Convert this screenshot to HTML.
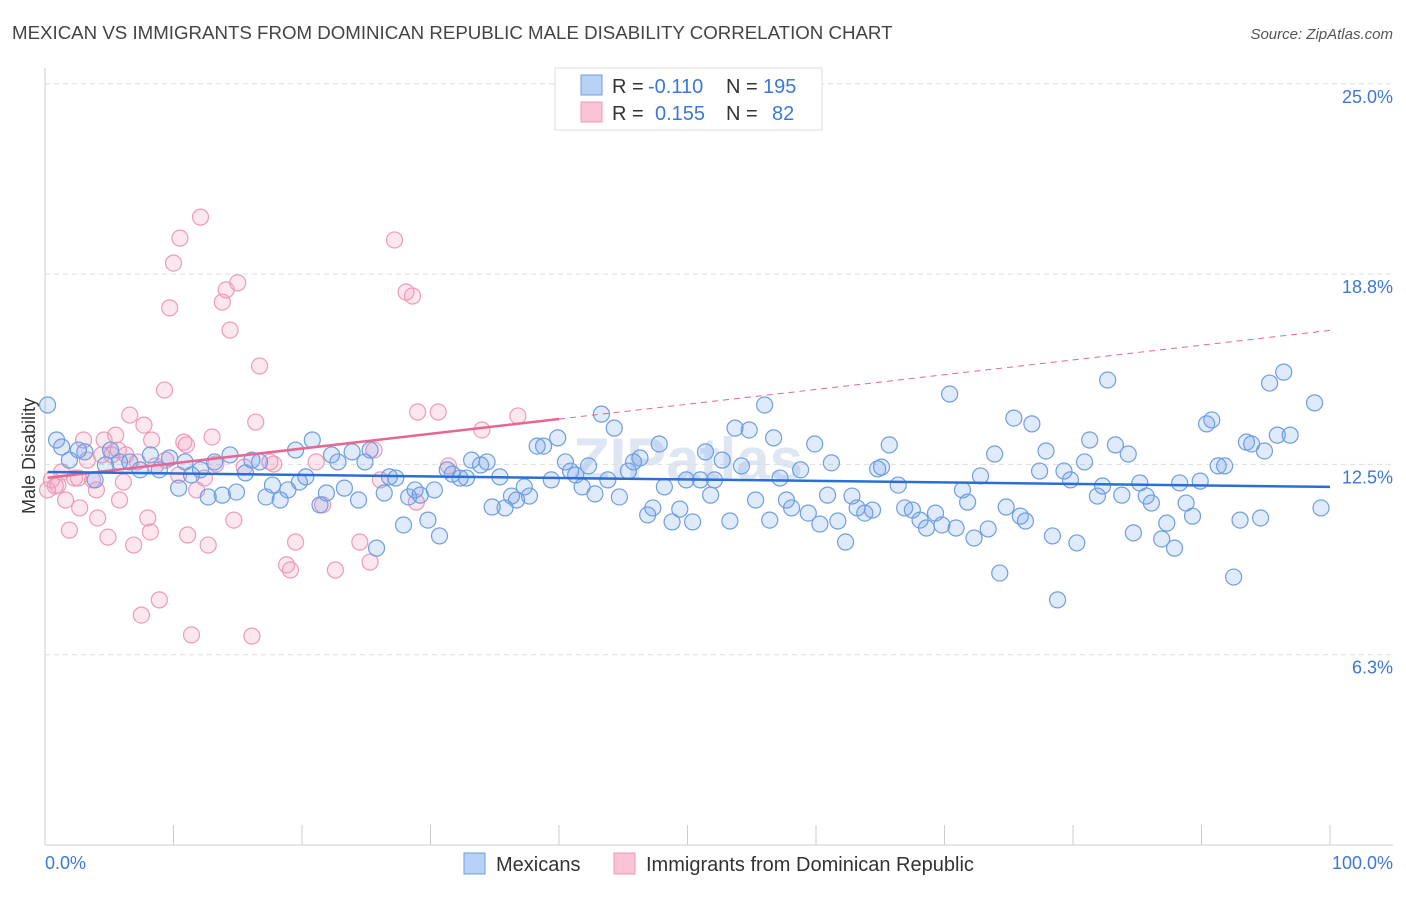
<!DOCTYPE html>
<html><head><meta charset="utf-8"><style>
body{margin:0;background:#fff;font-family:"Liberation Sans",sans-serif;}
svg text{font-family:"Liberation Sans",sans-serif;}
</style></head><body>
<svg id="chart" width="1406" height="892">
<text x="12" y="39" font-size="18.7" fill="#444">MEXICAN VS IMMIGRANTS FROM DOMINICAN REPUBLIC MALE DISABILITY CORRELATION CHART</text>
<text x="1393" y="39" font-size="15" fill="#555" font-style="italic" text-anchor="end">Source: ZipAtlas.com</text>
<text x="688" y="480" font-size="60" fill="#dde6f2" text-anchor="middle" font-weight="bold">ZIPatlas</text>
<g id="grid"></g>
<g id="pts"></g>
<g id="trend"></g>
<text x="35" y="456" font-size="18" fill="#333" text-anchor="middle" transform="rotate(-90 35 456)">Male Disability</text>
<text x="45" y="869" font-size="18" fill="#3b78d8">0.0%</text>
<text x="1393" y="869" font-size="18" fill="#3b78d8" text-anchor="end">100.0%</text>
<g>
<rect x="555" y="68" width="267" height="62" fill="#fff" stroke="#ddd"/>
<rect x="581" y="75" width="21" height="20" fill="#b8d2f5" stroke="#6f9ee0"/>
<rect x="581" y="102" width="21" height="20" fill="#fac4d6" stroke="#ee9ab8"/>
<text x="612" y="93" font-size="20" fill="#333">R = </text><text x="648" y="93" font-size="20" fill="#3b78d8">-0.110</text>
<text x="726" y="93" font-size="20" fill="#333">N = </text><text x="763" y="93" font-size="20" fill="#3b78d8">195</text>
<text x="612" y="120" font-size="20" fill="#333">R = </text><text x="655" y="120" font-size="20" fill="#3b78d8">0.155</text>
<text x="726" y="120" font-size="20" fill="#333">N = </text><text x="772" y="120" font-size="20" fill="#3b78d8">82</text>
</g>
<g>
<rect x="464" y="853" width="21" height="21" fill="#b8d2f5" stroke="#6f9ee0"/>
<text x="496" y="871" font-size="20" fill="#333">Mexicans</text>
<rect x="614" y="853" width="21" height="21" fill="#fac4d6" stroke="#ee9ab8"/>
<text x="646" y="871" font-size="20" fill="#333">Immigrants from Dominican Republic</text>
</g>
</svg>
<script>
const yTicks=[25,18.75,12.5,6.25];
const yTickLabels=["25.0%","18.8%","12.5%","6.3%"];
const xTicks=[0,10,20,30,40,50,60,70,80,90,100];
const blueX=[0.2,0.9,1.3,1.9,2.6,3.1,3.9,4.7,5.1,5.8,6.6,7.4,8.2,8.9,9.7,10.4,10.9,11.4,12.1,12.7,13.2,13.8,14.4,14.9,15.6,16.1,16.7,17.2,17.7,18.3,18.9,19.5,19.8,20.3,20.8,21.4,21.9,22.3,22.8,23.3,23.9,24.4,24.9,25.3,25.8,26.4,26.8,27.3,27.9,28.3,28.8,29.2,29.8,30.3,30.7,31.3,31.7,32.3,32.8,33.2,33.9,34.4,34.8,35.4,35.8,36.3,36.7,37.3,37.7,38.3,38.8,39.4,39.9,40.5,40.9,41.3,41.8,42.3,42.8,43.3,43.8,44.3,44.7,45.4,45.8,46.3,46.9,47.3,47.8,48.2,48.8,49.4,49.9,50.4,51.0,51.4,51.8,52.1,52.7,53.3,53.7,54.2,54.8,55.3,56.0,56.4,56.7,57.2,57.7,58.1,58.8,59.4,59.9,60.3,60.9,61.2,61.7,62.3,62.8,63.2,63.8,64.4,64.8,65.1,65.7,66.4,66.9,67.5,68.1,68.6,69.3,69.8,70.4,70.9,71.4,71.8,72.3,72.8,73.4,73.9,74.3,74.8,75.4,75.9,76.3,76.8,77.4,77.9,78.4,78.8,79.3,79.8,80.3,80.9,81.3,81.9,82.3,82.7,83.3,83.8,84.3,84.7,85.2,85.7,86.1,86.9,87.3,87.9,88.3,88.8,89.3,89.9,90.4,90.8,91.3,91.8,92.5,93.0,93.5,93.9,94.6,94.9,95.3,95.9,96.4,96.9,98.8,99.3];
const blueY=[14.45,13.3,13.07,12.64,12.97,12.91,11.99,12.48,12.97,12.58,12.58,12.32,12.81,12.32,12.71,11.72,12.58,12.15,12.32,11.43,12.58,11.49,12.81,11.59,12.22,12.64,12.58,11.43,11.82,11.33,11.66,12.97,11.92,12.09,13.3,11.17,11.56,12.81,12.58,11.72,12.91,11.33,12.58,12.97,9.75,11.56,12.09,12.05,10.51,11.43,11.66,11.49,10.67,11.66,10.15,12.32,12.18,12.05,12.05,12.64,12.48,12.58,11.1,12.09,11.07,11.46,11.33,11.76,11.46,13.1,13.1,11.99,13.37,12.58,12.28,12.15,11.76,12.45,11.53,14.15,11.99,13.69,11.43,12.28,12.58,12.71,10.84,11.07,13.17,11.76,10.61,11.03,11.99,10.61,11.99,12.91,11.49,11.99,12.64,10.64,13.69,12.45,13.63,11.33,14.45,10.67,13.37,12.05,11.33,11.07,12.32,10.9,13.17,10.54,11.49,12.55,10.64,9.95,11.46,11.07,10.9,11.0,12.35,12.41,13.14,11.82,11.07,11.0,10.67,10.41,10.9,10.51,14.81,10.41,11.66,11.26,10.08,12.12,10.38,12.84,8.93,11.1,14.02,10.8,10.64,13.83,12.28,12.94,10.15,8.05,12.28,11.99,9.92,12.58,13.3,11.46,11.79,15.27,13.14,11.49,12.84,10.25,11.89,11.46,11.23,10.05,10.57,9.75,11.89,11.23,10.8,11.95,13.83,13.96,12.45,12.45,8.8,10.67,13.23,13.17,10.74,12.94,15.17,13.46,15.53,13.46,14.52,11.07];
const pinkX=[0.2,0.5,0.8,1.0,1.3,1.6,1.9,2.3,2.6,2.7,3.0,3.3,3.7,4.0,4.1,4.4,4.6,4.9,5.2,5.5,5.7,5.8,6.1,6.3,6.6,6.9,7.2,7.5,7.7,8.0,8.2,8.3,8.6,8.9,9.3,9.4,9.7,10.0,10.4,10.5,10.8,11.0,11.1,11.4,11.8,12.1,12.4,12.7,13.0,13.3,13.8,14.1,14.4,14.7,15.0,15.5,16.1,16.4,16.7,17.5,17.8,18.8,19.1,19.5,21.1,21.6,22.6,24.5,25.3,25.6,26.1,27.2,28.1,28.6,28.9,29.0,30.6,31.4,34.0,36.8];
const pinkY=[11.66,11.99,11.79,11.82,12.25,11.33,10.34,12.05,12.05,11.07,13.3,12.64,11.99,11.66,10.74,12.81,13.3,10.11,12.81,13.46,12.97,11.33,11.92,12.81,14.12,9.85,12.58,7.55,13.79,10.74,10.28,13.3,12.45,8.05,14.94,12.64,17.64,19.11,12.15,19.93,13.23,13.14,10.18,6.9,11.66,20.62,12.05,9.85,13.4,12.51,17.83,18.23,16.91,10.67,18.46,12.41,6.86,13.89,15.73,12.58,12.51,9.2,9.03,9.95,12.58,11.17,9.03,9.95,9.29,12.97,11.99,19.87,18.16,18.03,11.26,14.22,14.22,12.45,13.63,14.09];
const blueTrend=[12.25,11.76];
const pinkTrend=[12.05,16.9];
const pinkSolidEnd=40;

const NS="http://www.w3.org/2000/svg";
const X=v=>45+v*12.85, Y=v=>845-v*30.45;
function mk(tag,attrs,parent){const e=document.createElementNS(NS,tag);for(const k in attrs)e.setAttribute(k,attrs[k]);parent.appendChild(e);return e;}
const grid=document.getElementById('grid');
yTicks.forEach((t,i)=>{
  const l=mk('line',{x1:45,x2:1393,y1:Y(t),y2:Y(t),stroke:'#ddd','stroke-dasharray':'5,4'},grid);
  
  
  const tx=mk('text',{x:1393,y:Y(t)+19,'font-size':18,fill:'#3b78d8','text-anchor':'end'},grid);
  tx.textContent=yTickLabels[i];
  
  
});
const ax=mk('line',{x1:45,x2:45,y1:68,y2:845,stroke:'#ccc'},grid);


const bx=mk('line',{x1:45,x2:1393,y1:845,y2:845,stroke:'#ccc'},grid);


xTicks.forEach(t=>{
  const l=mk('line',{x1:X(t),x2:X(t),y1:825,y2:845,stroke:'#ccc'},grid);
  
  
});
const pts=document.getElementById('pts');
pinkX.forEach((x,i)=>{
  const c=mk('circle',{cx:X(x),cy:Y(pinkY[i]),r:8,fill:'rgba(244,160,190,0.25)',stroke:'#ee9ab8','stroke-width':1.2},pts);
  
  
});
blueX.forEach((x,i)=>{
  const c=mk('circle',{cx:X(x),cy:Y(blueY[i]),r:8,fill:'rgba(110,160,235,0.22)',stroke:'#6f9ee0','stroke-width':1.2},pts);
  
  
});
const tr=document.getElementById('trend');
const pAt=x=>pinkTrend[0]+(pinkTrend[1]-pinkTrend[0])*x/100;
const pd=mk('line',{x1:X(pinkSolidEnd),y1:Y(pAt(pinkSolidEnd)),x2:X(100),y2:Y(pAt(100)),stroke:'#e8668f','stroke-width':1,'stroke-dasharray':'6,5'},tr);


const ps=mk('line',{x1:X(0.2),y1:Y(pAt(0.2)),x2:X(pinkSolidEnd),y2:Y(pAt(pinkSolidEnd)),stroke:'#e8668f','stroke-width':2.5},tr);


const bl=mk('line',{x1:X(0.2),y1:Y(blueTrend[0]),x2:X(100),y2:Y(blueTrend[1]),stroke:'#2b6fd6','stroke-width':2.5},tr);


</script>
</body></html>
